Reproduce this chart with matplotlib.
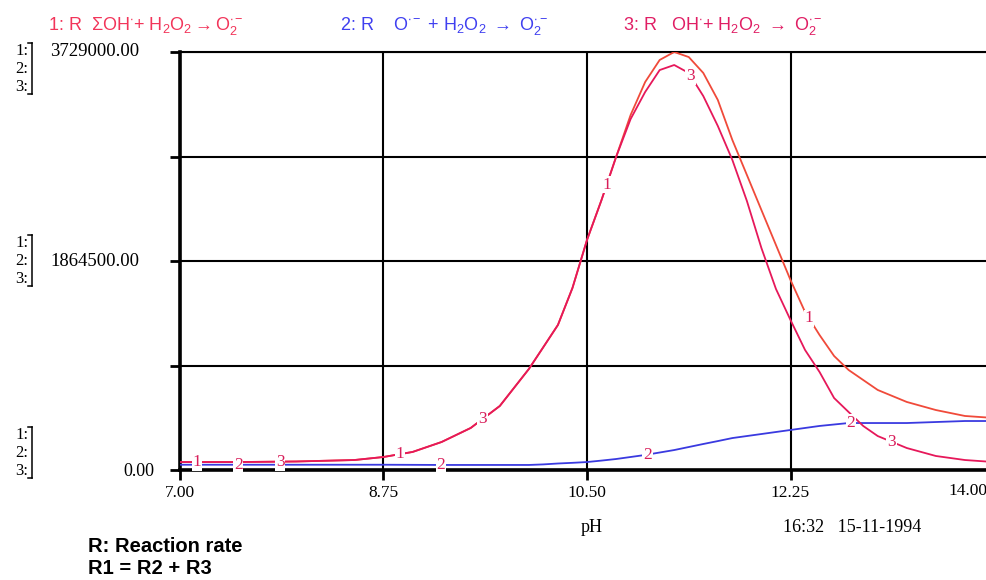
import numpy as np
import matplotlib.pyplot as plt
from matplotlib.lines import Line2D

# === DATA ===
ph = [7.0, 7.5, 8.0, 8.5, 8.75, 9.0, 9.25, 9.5, 9.75, 10.0, 10.125, 10.25, 10.375,
      10.5, 10.625, 10.75, 10.875, 11.0, 11.125, 11.25, 11.375, 11.5, 11.625, 11.75,
      11.875, 12.0, 12.125, 12.25, 12.375, 12.5, 12.625, 12.75, 12.875, 13.0, 13.25,
      13.5, 13.75, 14.0]

# 1: R total (sum)
r1 = [71000, 71000, 76000, 89000, 116000, 161000, 250000, 375000, 571000, 901000,
      1097000, 1294000, 1624000, 2052000, 2409000, 2792000, 3167000, 3461000, 3658000,
      3729000, 3684000, 3542000, 3301000, 2944000, 2632000, 2319000, 2007000, 1695000,
      1410000, 1204000, 1017000, 892000, 803000, 714000, 607000, 535000, 482000, 464000]

# 2: R  O*- + H2O2
r2 = [47000, 47000, 47000, 47000, 47000, 46000, 45000, 45000, 45000, 45000,
      50000, 58000, 64000, 71000, 84000, 98000, 116000, 134000, 156000,
      178000, 205000, 232000, 258000, 285000, 303000, 321000, 339000, 357000,
      375000, 393000, 406000, 419000, 419000, 419000, 419000, 428000, 437000, 437000]

# 3: R  OH* + H2O2
r3 = [71000, 71000, 76000, 89000, 116000, 161000, 250000, 375000, 571000, 901000,
      1097000, 1294000, 1624000, 2052000, 2409000, 2792000, 3131000, 3372000, 3568000,
      3613000, 3542000, 3336000, 3069000, 2766000, 2400000, 1980000, 1615000, 1338000,
      1071000, 874000, 642000, 517000, 393000, 303000, 196000, 125000, 89000, 71000]

ymax = 3729000
xticks = [7.0, 8.75, 10.5, 12.25, 14.0]
yticks = [0, ymax / 4, ymax / 2, 3 * ymax / 4, ymax]

# label positions along each curve
lab1 = [7.146, 8.89, 10.67, 12.41]
lab2 = [7.5, 9.245, 11.02, 12.77]
lab3 = [7.86, 9.6, 11.39, 13.12]

C1 = '#f04a3a'
C2 = '#3a3ae0'
C3 = '#e6185a'
CLAB = '#d81e5a'

plt.rcParams['mathtext.fontset'] = 'custom'
plt.rcParams['mathtext.rm'] = 'Liberation Sans'
plt.rcParams['mathtext.it'] = 'Liberation Sans'
plt.rcParams['mathtext.bf'] = 'Liberation Sans:bold'
plt.rcParams['mathtext.fallback'] = 'stixsans'

W, H = 986, 580
fig = plt.figure(figsize=(W / 100, H / 100), dpi=100)


def px(x, y):
    return x / W, 1 - y / H


ax = fig.add_axes([180 / W, 1 - 470 / H, (994 - 180) / W, (470 - 52) / H])
ax.set_xlim(7, 14)
ax.set_ylim(0, ymax)

ax.plot(ph, r1, color=C1, lw=1.3, zorder=3)
ax.plot(ph, r2, color=C2, lw=1.3, zorder=3)
ax.plot(ph, r3, color=C3, lw=1.3, zorder=4)

for xs, ys, n in [(lab1, r1, '1'), (lab2, r2, '2'), (lab3, r3, '3')]:
    for x in xs:
        ax.text(x, np.interp(x, ph, ys), n, color=CLAB, fontsize=12.5,
                family='Liberation Serif', ha='center', va='center', zorder=6,
                bbox=dict(boxstyle='square,pad=0.05', fc='white', ec='none'))

ax.set_xticks(xticks)
ax.set_xticklabels(['%.2f' % v for v in xticks[:-1]] + [''],
                   family='Liberation Serif', fontsize=12.5)
ax.set_yticks(yticks)
ax.set_yticklabels([])
ax.grid(True, color='black', lw=1.5)
ax.set_axisbelow(True)
ax.tick_params(direction='out', length=7, width=2, pad=4)
for s in ['left', 'bottom']:
    ax.spines[s].set_linewidth(2.6)
for s in ['top', 'right']:
    ax.spines[s].set_linewidth(1.5)

# last x label sits left of its tick, near the edge
fig.text(*px(948, 491), '14.00', family='Liberation Serif', fontsize=12.5, va='center')

# y value labels
fig.text(*px(50, 52), '3729000.00', family='Liberation Serif', fontsize=13.5, va='center')
fig.text(*px(50, 262), '1864500.00', family='Liberation Serif', fontsize=13.5, va='center')
fig.text(*px(123, 472), '0.00', family='Liberation Serif', fontsize=13, va='center')

# 1: 2: 3: brackets
for y0 in [51, 243, 435]:
    for i, n in enumerate(['1:', '2:', '3:']):
        fig.text(*px(15, y0 + i * 18), n, family='Liberation Serif', fontsize=12, va='center')
    xb = 32
    top, bot = y0 - 8, y0 + 43
    fig.add_artist(Line2D([px(xb, 0)[0]] * 2, [px(0, top)[1], px(0, bot)[1]],
                          color='black', lw=1.1))
    fig.add_artist(Line2D([px(xb - 4, 0)[0], px(xb, 0)[0]], [px(0, top)[1]] * 2,
                          color='black', lw=1.1))
    fig.add_artist(Line2D([px(xb - 4, 0)[0], px(xb, 0)[0]], [px(0, bot)[1]] * 2,
                          color='black', lw=1.1))

# series titles
fig.text(*px(48, 26), r'1: R  $\Sigma$OH$^{\bullet}$+ H$_2$O$_2$$\rightarrow$O$_2^{\bullet-}$',
         color='#f2355a', family='Liberation Sans', fontsize=13, va='center')
fig.text(*px(340, 26), r'2: R    O$^{\bullet-}$ + H$_2$O$_2$ $\rightarrow$ O$_2^{\bullet-}$',
         color='#4040f0', family='Liberation Sans', fontsize=13, va='center')
fig.text(*px(623, 26), r'3: R   OH$^{\bullet}$+ H$_2$O$_2$ $\rightarrow$ O$_2^{\bullet-}$',
         color='#e01e64', family='Liberation Sans', fontsize=13, va='center')

fig.text(*px(592, 527), 'pH', family='Liberation Serif', fontsize=13, ha='center', va='center')
fig.text(*px(783, 527), '16:32   15-11-1994', family='Liberation Serif', fontsize=13, va='center')

fig.text(*px(88, 546), 'R: Reaction rate', family='Liberation Sans', fontsize=14.5,
         fontweight='bold', va='center')
fig.text(*px(88, 569), 'R1 = R2 + R3', family='Liberation Sans', fontsize=14.5,
         fontweight='bold', va='center')

fig.savefig('out.png', dpi=100)
